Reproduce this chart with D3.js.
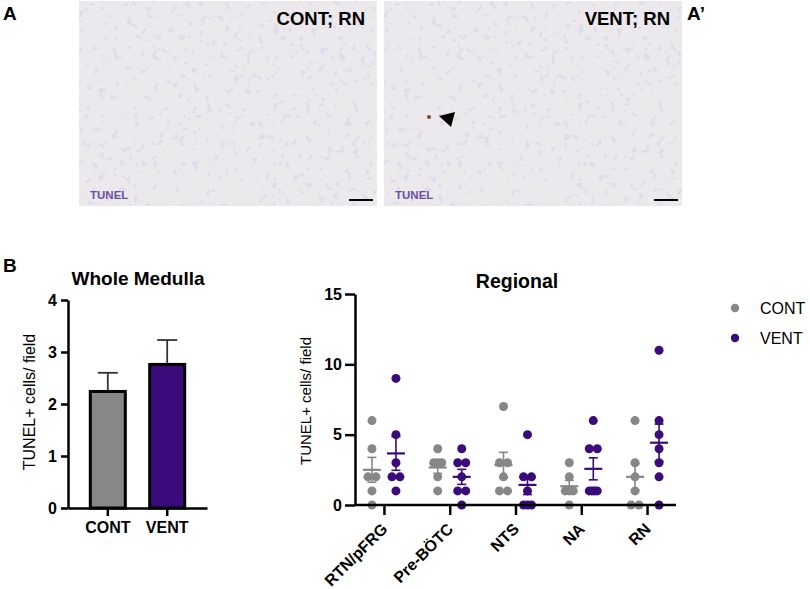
<!DOCTYPE html>
<html>
<head>
<meta charset="utf-8">
<script src="https://cdn.jsdelivr.net/npm/d3@7"></script>
<style>
  body { margin: 0; background: #fff; }
  svg { display: block; font-family: "Liberation Sans", Arial, sans-serif; }
  .axis path, .axis line { stroke: #000; stroke-width: 2.5px; }
  .axis text { font-size: 16px; font-weight: bold; fill: #000; }
</style>
</head>
<body>
<main></main>
<script>
// whole medulla (mean +/- SEM)
var wholeGroups = ["CONT", "VENT"];
var wholeMeans = [2.27, 2.79];
var wholeSem = [0.33, 0.44];
var wholeTicks = [0, 1, 2, 3, 4];

// regional, one dot per animal
var regions = ["RTN/pFRG", "Pre-BÖTC", "NTS", "NA", "RN"];
var contPoints = [
  [6, 4, 2, 2, 1, 0],
  [4, 3, 3, 3, 2, 1],
  [7, 3, 3, 2, 1, 1],
  [3, 2, 1, 1, 1, 0],
  [6, 3, 2, 1, 0, 0]
];
var ventPoints = [
  [9, 5, 3, 2, 2, 1],
  [4, 3, 3, 2, 1, 1, 0],
  [5, 2, 2, 1, 0, 0, 0],
  [6, 4, 4, 1, 1, 1, 1],
  [11, 6, 5, 4, 3, 2, 0]
];
var regionalTicks = [0, 5, 10, 15];

var grey = "#878787";
var purple = "#3b0a7b";
var groupColors = [grey, purple];

var W = 810, H = 589;
var svg = d3.select("main").append("svg")
            .attr("width", W)
            .attr("height", H);

// ---------- panel A : micrographs ----------
var defs = svg.append("defs");
var filt = defs.append("filter")
               .attr("id", "tissue")
               .attr("x", 0).attr("y", 0)
               .attr("width", "100%").attr("height", "100%");
filt.append("feTurbulence")
    .attr("type", "fractalNoise")
    .attr("baseFrequency", 0.15)
    .attr("numOctaves", 2)
    .attr("seed", 7)
    .attr("result", "n");
filt.append("feColorMatrix")
    .attr("in", "n")
    .attr("type", "matrix")
    .attr("values", "0 0 0 0 0.70  0 0 0 0 0.66  0 0 0 0 0.80  18 0 0 0 -11.3");

var images = [
  {x: 79, label: "CONT; RN", fig: "A", figX: 3},
  {x: 384, label: "VENT; RN", fig: "A\u2019", figX: 687}
];
var imgW = 298, imgH = 205;

var img = svg.selectAll("g.img")
             .data(images)
             .enter()
             .append("g")
             .attr("class", "img")
             .attr("transform", function(d) { return "translate(" + d.x + ",1)"; });
img.append("rect")
   .attr("width", imgW)
   .attr("height", imgH)
   .attr("fill", "#ece9ed");
img.append("rect")
   .attr("width", imgW)
   .attr("height", imgH)
   .attr("fill", "#fff")
   .attr("opacity", 0.6)
   .attr("filter", "url(#tissue)");
img.append("text")
   .attr("x", imgW - 12)
   .attr("y", 24)
   .attr("text-anchor", "end")
   .attr("font-size", 18.5)
   .attr("font-weight", "bold")
   .text(function(d) { return d.label; });
img.append("text")
   .attr("x", 11)
   .attr("y", 198)
   .attr("font-size", 11.5)
   .attr("font-weight", "bold")
   .attr("fill", "#6b4f9e")
   .text("TUNEL");
img.append("line")
   .attr("x1", imgW - 28)
   .attr("x2", imgW - 4)
   .attr("y1", 199)
   .attr("y2", 199)
   .attr("stroke", "#000")
   .attr("stroke-width", 2);

svg.selectAll("text.fig")
   .data(images)
   .enter()
   .append("text")
   .attr("class", "fig")
   .attr("x", function(d) { return d.figX; })
   .attr("y", 20)
   .attr("font-size", 19)
   .attr("font-weight", "bold")
   .text(function(d) { return d.fig; });

// TUNEL+ cell and arrowhead in A'
svg.append("circle")
   .attr("cx", 429).attr("cy", 117).attr("r", 2)
   .attr("fill", "#7a4a2a");
svg.append("path")
   .attr("d", "M439,116L455,112L451,127Z")
   .attr("fill", "#000");

// ---------- panel B : whole medulla ----------
svg.append("text")
   .attr("x", 3).attr("y", 272)
   .attr("font-size", 19)
   .attr("font-weight", "bold")
   .text("B");

var x1 = d3.scaleBand()
           .domain(wholeGroups)
           .range([68, 207])
           .paddingInner(0.36)
           .paddingOuter(0.35);
var y1 = d3.scaleLinear()
           .domain([0, 4])
           .range([508, 300]);

var whole = svg.append("g");
var wData = wholeGroups.map(function(g, i) {
  return {group: g, mean: wholeMeans[i], sem: wholeSem[i], color: groupColors[i]};
});

whole.selectAll("g.err")
     .data(wData)
     .enter()
     .append("g")
     .attr("class", "err")
     .each(function(d) {
       var cx = x1(d.group) + x1.bandwidth() / 2;
       var g = d3.select(this);
       g.append("line")
        .attr("x1", cx).attr("x2", cx)
        .attr("y1", y1(d.mean)).attr("y2", y1(d.mean + d.sem));
       g.append("line")
        .attr("x1", cx - 10).attr("x2", cx + 10)
        .attr("y1", y1(d.mean + d.sem)).attr("y2", y1(d.mean + d.sem));
     })
     .attr("stroke", "#333")
     .attr("stroke-width", 1.8);

whole.selectAll("rect")
     .data(wData)
     .enter()
     .append("rect")
     .attr("x", function(d) { return x1(d.group) + 1.5; })
     .attr("y", function(d) { return y1(d.mean) + 1.5; })
     .attr("width", x1.bandwidth() - 3)
     .attr("height", function(d) { return y1(0) - y1(d.mean) - 1.5; })
     .attr("fill", function(d) { return d.color; })
     .attr("stroke", "#000")
     .attr("stroke-width", 3);

whole.append("g")
     .attr("class", "axis")
     .attr("transform", "translate(68,0)")
     .call(d3.axisLeft(y1).tickValues(wholeTicks).tickSize(7).tickSizeOuter(0).tickFormat(d3.format("d")))
     .call(function(g) { g.selectAll("text").attr("x", -11); });
whole.append("g")
     .attr("class", "axis")
     .attr("transform", "translate(0,508)")
     .call(d3.axisBottom(x1).tickSize(8).tickSizeOuter(0))
     .call(function(g) { g.selectAll("text").attr("y", 14); });

whole.append("text")
     .attr("x", 138).attr("y", 285)
     .attr("text-anchor", "middle")
     .attr("font-size", 19)
     .attr("font-weight", "bold")
     .text("Whole Medulla");
whole.append("text")
     .attr("transform", "translate(35,402) rotate(-90)")
     .attr("text-anchor", "middle")
     .attr("font-size", 16)
     .text("TUNEL+ cells/ field");

// ---------- panel B : regional ----------
var x2 = d3.scalePoint()
           .domain(regions)
           .range([355, 676])
           .padding(0.44);
var y2 = d3.scaleLinear()
           .domain([0, 15])
           .range([505, 294]);
var groupOffset = [-12, 12];

var reg = svg.append("g");

function spread(values) {
  // side by side offsets for equal values, like a column scatter
  var seen = {};
  var counts = {};
  values.forEach(function(v) { counts[v] = (counts[v] || 0) + 1; });
  return values.map(function(v) {
    var n = counts[v];
    var i = seen[v] = (seen[v] === undefined ? 0 : seen[v] + 1);
    var dx = n > 1 ? -4 + 8 * i / (n - 1) : 0;
    return {value: v, dx: dx};
  });
}

var series = [contPoints, ventPoints];
series.forEach(function(pointsByRegion, gi) {
  regions.forEach(function(r, ri) {
    var vals = pointsByRegion[ri];
    var cx = x2(r) + groupOffset[gi];
    var col = groupColors[gi];
    var mean = d3.mean(vals);
    var sem = d3.deviation(vals) / Math.sqrt(vals.length);

    reg.append("g")
       .selectAll("circle")
       .data(spread(vals))
       .enter()
       .append("circle")
       .attr("cx", function(d) { return cx + d.dx; })
       .attr("cy", function(d) { return y2(d.value); })
       .attr("r", 4.5)
       .attr("fill", col);

    var e = reg.append("g")
               .attr("stroke", col)
               .attr("stroke-width", 1.6);
    e.append("line")
     .attr("x1", cx).attr("x2", cx)
     .attr("y1", y2(mean - sem)).attr("y2", y2(mean + sem));
    [mean - sem, mean + sem].forEach(function(v) {
      e.append("line")
       .attr("x1", cx - 4.5).attr("x2", cx + 4.5)
       .attr("y1", y2(v)).attr("y2", y2(v));
    });
    e.append("line")
     .attr("x1", cx - 9).attr("x2", cx + 9)
     .attr("y1", y2(mean)).attr("y2", y2(mean))
     .attr("stroke-width", 2.2);
  });
});

reg.append("g")
   .attr("class", "axis")
   .attr("transform", "translate(355,0)")
   .call(d3.axisLeft(y2).tickValues(regionalTicks).tickSize(10).tickSizeOuter(0))
   .call(function(g) { g.selectAll("text").attr("x", -13); });
reg.append("g")
   .attr("class", "axis")
   .attr("transform", "translate(0,505)")
   .call(d3.axisBottom(x2).tickSize(10).tickSizeOuter(0))
   .call(function(g) {
     g.select(".domain").attr("d", "M355,0H676");
     g.selectAll("text")
      .attr("x", 0).attr("y", 0).attr("dy", 0)
      .attr("text-anchor", "end")
      .attr("font-size", 15)
      .attr("transform", "translate(4,25) rotate(-45)");
   });

reg.append("text")
   .attr("x", 517).attr("y", 288)
   .attr("text-anchor", "middle")
   .attr("font-size", 19.5)
   .attr("font-weight", "bold")
   .text("Regional");
reg.append("text")
   .attr("transform", "translate(311,401) rotate(-90)")
   .attr("text-anchor", "middle")
   .attr("font-size", 15)
   .text("TUNEL+ cells/ field");

// legend
var legend = svg.append("g");
legend.selectAll("circle")
      .data(wholeGroups)
      .enter()
      .append("circle")
      .attr("cx", 735)
      .attr("cy", function(d, i) { return 308 + i * 30; })
      .attr("r", 4.2)
      .attr("fill", function(d, i) { return groupColors[i]; });
legend.selectAll("text")
      .data(wholeGroups)
      .enter()
      .append("text")
      .attr("x", 760)
      .attr("y", function(d, i) { return 314 + i * 30; })
      .attr("font-size", 16)
      .text(function(d) { return d; });
</script>
</body>
</html>
